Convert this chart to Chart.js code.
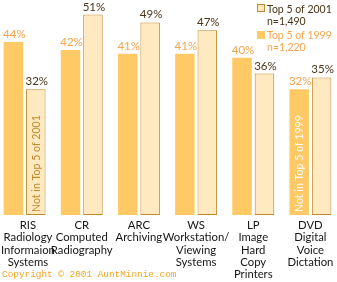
<!DOCTYPE html>
<html>
<head>
<meta charset="utf-8">
<script src="https://cdn.jsdelivr.net/npm/chart.js@4"></script>
<style>
  html, body { margin: 0; padding: 0; background: #fff; overflow: hidden; }
  #wrap { position: absolute; left: -4px; top: 0; width: 343px; height: 282px; }
</style>
</head>
<body>
<div id="wrap"><canvas id="chart"></canvas></div>
<script>
// categories, one multi-line label each
const categories = [
    ['RIS', 'Radiology', 'Informaion', 'Systems'],
    ['CR', 'Computed', 'Radiography'],
    ['ARC', 'Archiving'],
    ['WS', 'Workstation/', 'Viewing', 'Systems'],
    ['LP', 'Image', 'Hard', 'Copy', 'Printers'],
    ['DVD', 'Digital', 'Voice', 'Dictation']
];
const top1999 = [44, 42, 41, 41, 40, 32];
const top2001 = [32, 51, 49, 47, 36, 35];
const legendLines = [
    ['Top 5 of 2001', 'n=1,490'],
    ['Top 5 of 1999', 'n=1,220']
];
const notInTop = { 1999: 5, 2001: 0 }; // category index where the bar is "not in top 5"

const FONT = 'Lato, "Liberation Sans", sans-serif';
const C1999 = '#ffca66';
const C2001 = '#ffe9c1';
const EDGE = '#c28b2c';
const ORANGE = '#f6a44c';
const BROWN = '#4a3418';
const OFF = 4; // canvas is shifted 4px left of the page

// value labels, category labels, rotated notes, legend and copyright
const extras = {
    id: 'extras',
    afterDatasetsDraw(chart) {
        const ctx = chart.ctx;
        const xs = chart.scales.x;
        ctx.save();
        ctx.font = '11.5px ' + FONT;
        ctx.textAlign = 'center';
        ctx.textBaseline = 'alphabetic';
        chart.data.datasets.forEach((ds, i) => {
            chart.getDatasetMeta(i).data.forEach((bar, j) => {
                ctx.fillStyle = i === 0 ? ORANGE : BROWN;
                ctx.fillText(ds.data[j] + '%', bar.x + 1, bar.y - 4);
            });
        });
        // category labels under the axis, kept inside the page
        ctx.font = '11.3px ' + FONT;
        ctx.fillStyle = '#151515';
        chart.data.labels.forEach((lines, i) => {
            const widest = Math.max(...lines.map(t => ctx.measureText(t).width));
            const cx = Math.max(xs.getPixelForTick(i), OFF + 1 + widest / 2);
            lines.forEach((t, k) => {
                ctx.fillText(t, cx, xs.top + 14 + k * 12.3);
            });
        });
        // rotated notes inside bars
        ctx.font = '10.6px ' + FONT;
        ctx.textAlign = 'left';
        ctx.textBaseline = 'middle';
        const notes = [[0, notInTop[1999], '#ffffff', '1999'], [1, notInTop[2001], EDGE, '2001']];
        notes.forEach(([di, ci, col, yr]) => {
            const bar = chart.getDatasetMeta(di).data[ci];
            ctx.save();
            ctx.translate(bar.x + 0.5, chart.chartArea.bottom - 3);
            ctx.rotate(-Math.PI / 2);
            ctx.fillStyle = col;
            ctx.fillText('Not in Top 5 of ' + yr, 0, 0);
            ctx.restore();
        });
        // legend
        ctx.font = '10.5px ' + FONT;
        ctx.textBaseline = 'alphabetic';
        const lx = 257 + OFF;
        legendLines.forEach((lines, k) => {
            const y0 = 12.5 + k * 26;
            if (k === 0) {
                ctx.fillStyle = C2001;
                ctx.fillRect(lx, y0 - 8.5, 8, 8);
                ctx.strokeStyle = EDGE;
                ctx.lineWidth = 1;
                ctx.strokeRect(lx + 0.5, y0 - 8, 7, 7);
                ctx.fillStyle = BROWN;
            } else {
                ctx.fillStyle = C1999;
                ctx.fillRect(lx, y0 - 7.5, 8, 8);
                ctx.fillStyle = ORANGE;
            }
            ctx.fillText(lines[0], lx + 10, y0);
            ctx.fillText(lines[1], lx + 10, y0 + 12.5);
        });
        // copyright
        ctx.font = '9.4px "Liberation Mono", monospace';
        ctx.fillStyle = '#f2a51e';
        ctx.fillText('Copyright \u00a9 2001 AuntMinnie.com', 2 + OFF, 277);
        ctx.restore();
    }
};

new Chart(document.getElementById('chart'), {
    type: 'bar',
    data: {
        labels: categories,
        datasets: [
            {
                label: 'Top 5 of 1999',
                data: top1999,
                backgroundColor: C1999,
                borderWidth: 0
            },
            {
                label: 'Top 5 of 2001',
                data: top2001,
                backgroundColor: C2001,
                borderColor: EDGE,
                borderWidth: 1,
                borderSkipped: false
            }
        ]
    },
    options: {
        responsive: true,
        maintainAspectRatio: false,
        animation: false,
        events: [],
        layout: { padding: 0 },
        categoryPercentage: 0.785,
        barPercentage: 0.87,
        plugins: {
            legend: { display: false },
            tooltip: { enabled: false }
        },
        scales: {
            x: {
                grid: { display: false, drawTicks: false },
                border: { display: false },
                afterFit: (s) => { s.height = 67; s.paddingLeft = 0; s.paddingRight = 0; },
                ticks: { display: false }
            },
            y: {
                display: false,
                min: 0,
                max: 54.7
            }
        }
    },
    plugins: [extras]
});
</script>
</body>
</html>
